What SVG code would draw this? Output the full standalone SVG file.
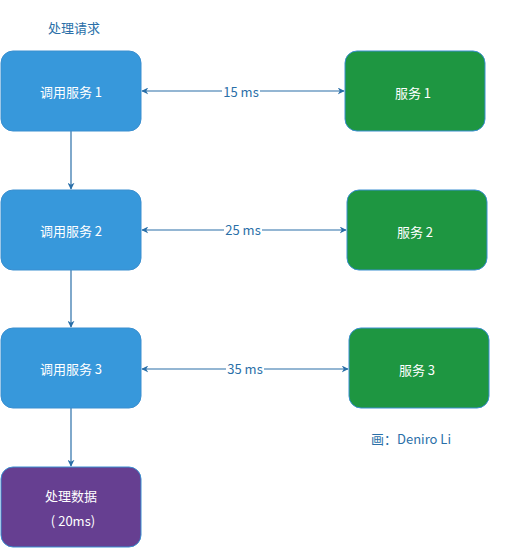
<svg xmlns="http://www.w3.org/2000/svg" width="506" height="548" viewBox="0 0 506 548">
<style>
text{font-family:"Microsoft YaHei","Noto Sans CJK SC","Noto Sans",sans-serif;font-size:13px;text-anchor:middle;dominant-baseline:central}
.call rect{fill:#3798db;stroke:#3a8fd0;stroke-width:1}
.svc rect{fill:#1e9641;stroke:#3a8fd0;stroke-width:1}
.proc rect{fill:#663f91;stroke:#3a8fd0;stroke-width:1}
.w{fill:#ffffff}
.b{fill:#2a6fa8}
.e{stroke:#2a6fa8;stroke-width:1.2;fill:none}
.lbl{fill:#ffffff}
</style>
<defs>
<marker id="ah" viewBox="0 0 10 10" refX="9" refY="5" markerWidth="7" markerHeight="7" orient="auto-start-reverse" markerUnits="userSpaceOnUse">
<path d="M0,0 L10,5 L0,10 L3,5 Z" fill="#2a6fa8"/>
</marker>
</defs>
<rect width="506" height="548" fill="#ffffff"/>
<text class="b" x="74" y="27">处理请求</text>
<g id="connectors">
<path class="e" d="M71,131 V189" marker-end="url(#ah)"/>
<path class="e" d="M71,270 V327" marker-end="url(#ah)"/>
<path class="e" d="M71,408 V466" marker-end="url(#ah)"/>
<path class="e" d="M142,91 H344" marker-start="url(#ah)" marker-end="url(#ah)"/>
<path class="e" d="M142,230 H346" marker-start="url(#ah)" marker-end="url(#ah)"/>
<path class="e" d="M142,369 H348" marker-start="url(#ah)" marker-end="url(#ah)"/>
<rect class="lbl" x="222" y="83" width="38" height="16"/>
<text class="b" x="241" y="91">15 ms</text>
<rect class="lbl" x="224" y="222" width="38" height="16"/>
<text class="b" x="243" y="229">25 ms</text>
<rect class="lbl" x="226" y="361" width="38" height="16"/>
<text class="b" x="245" y="368">35 ms</text>
</g>
<g id="call1" class="call"><rect x="1" y="51" width="140" height="80" rx="12"/><text class="w" x="71" y="91">调用服务 1</text></g>
<g id="call2" class="call"><rect x="1" y="190" width="140" height="80" rx="12"/><text class="w" x="71" y="230">调用服务 2</text></g>
<g id="call3" class="call"><rect x="1" y="328" width="140" height="80" rx="12"/><text class="w" x="71" y="368">调用服务 3</text></g>
<g id="proc" class="proc"><rect x="1" y="467" width="140" height="80" rx="12"/><text class="w" x="71" y="495">处理数据</text><text class="w" x="73" y="520">( 20ms)</text></g>
<g id="svc1" class="svc"><rect x="345" y="51" width="140" height="80" rx="12"/><text class="w" x="413" y="92">服务 1</text></g>
<g id="svc2" class="svc"><rect x="347" y="190" width="140" height="80" rx="12"/><text class="w" x="415" y="231">服务 2</text></g>
<g id="svc3" class="svc"><rect x="349" y="328" width="140" height="80" rx="12"/><text class="w" x="417" y="369">服务 3</text></g>
<text class="b" x="411" y="438">画：Deniro Li</text>
</svg>
